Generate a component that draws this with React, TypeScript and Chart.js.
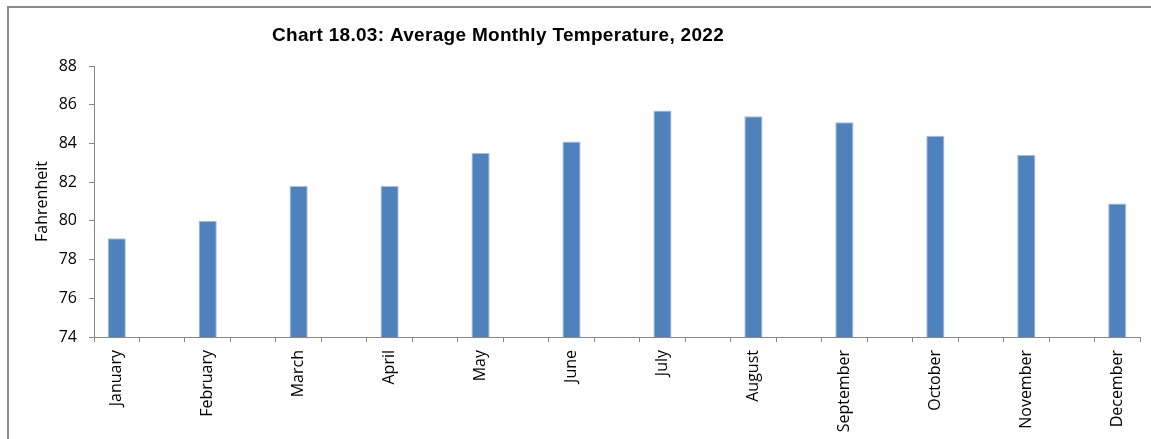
import React, { useEffect, useRef } from "react";
import { Chart, registerables } from "chart.js";

Chart.register(...registerables);

const TITLE = "Chart 18.03: Average Monthly Temperature, 2022";
const Y_TITLE = "Fahrenheit";
const MONTHS = ["January", "February", "March", "April", "May", "June", "July", "August", "September", "October", "November", "December"];
const TEMPS = [79.1, 80.0, 81.8, 81.8, 83.5, 84.1, 85.7, 85.4, 85.1, 84.4, 83.4, 80.9];
const Y_MIN = 74;
const Y_MAX = 88;
const Y_STEP = 2;

// Excel-style layout: each month is followed by an empty category slot
const LABELS: string[] = [];
const VALUES: (number | null)[] = [];
MONTHS.forEach((m, i) => {
  LABELS.push(m);
  VALUES.push(TEMPS[i]);
  if (i < MONTHS.length - 1) {
    LABELS.push("");
    VALUES.push(null);
  }
});

const titlePlugin = {
  id: "customTitle",
  afterDraw(chart: any) {
    const ctx = chart.ctx;
    ctx.save();
    ctx.font = "bold 19px 'Liberation Sans', Arial, sans-serif";
    try {
      (ctx as any).letterSpacing = "0.3px";
    } catch (e) {}
    ctx.fillStyle = "#000";
    ctx.textAlign = "center";
    ctx.textBaseline = "alphabetic";
    ctx.fillText(TITLE, 498, 41);
    ctx.restore();
  },
};

export default function App() {
  const ref = useRef<HTMLCanvasElement>(null);
  useEffect(() => {
    if (!ref.current) return;
    const chart = new Chart(ref.current, {
      type: "bar",
      data: {
        labels: LABELS,
        datasets: [
          {
            data: VALUES,
            backgroundColor: "#4F81BD",
            borderColor: "#A7C0E0",
            borderWidth: 1,
            barPercentage: 0.4,
            categoryPercentage: 1,
          },
        ],
      },
      options: {
        animation: false,
        responsive: false,
        maintainAspectRatio: false,
        layout: { padding: { left: 0, right: 11, top: 66, bottom: 0 } },
        plugins: { legend: { display: false }, title: { display: false }, tooltip: { enabled: false } },
        scales: {
          x: {
            grid: { display: true, drawOnChartArea: false, offset: true, color: "#888888", tickLength: 5 },
            border: { display: true, color: "#888888", width: 1 },
            ticks: {
              autoSkip: false,
              maxRotation: 90,
              minRotation: 90,
              padding: 8,
              color: "#000",
              font: { family: "'Open Sans', sans-serif", size: 16 },
            },
            afterFit(scale: any) {
              scale.height = 102;
            },
          },
          y: {
            min: Y_MIN,
            max: Y_MAX,
            grid: { display: true, drawOnChartArea: false, color: "#888888", tickLength: 5 },
            border: { display: true, color: "#888888", width: 1 },
            ticks: {
              stepSize: Y_STEP,
              padding: 12,
              color: "#000",
              font: { family: "'Open Sans', sans-serif", size: 16 },
            },
            title: {
              display: true,
              text: Y_TITLE,
              color: "#000",
              padding: { top: 33, bottom: 0 },
              font: { family: "'Open Sans', sans-serif", size: 16 },
            },
            afterFit(scale: any) {
              scale.width = 94;
            },
          },
        },
      },
      plugins: [titlePlugin],
    });
    return () => chart.destroy();
  }, []);

  return (
    <div style={{ position: "fixed", left: 0, top: 0, width: 1151, height: 439, background: "#fff" }}>
      <div
        style={{
          position: "absolute",
          left: 7,
          top: 6,
          width: 1151,
          height: 439,
          borderLeft: "2px solid #8c8c8c",
          borderTop: "2px solid #8c8c8c",
          boxSizing: "border-box",
        }}
      />
      <canvas ref={ref} width={1151} height={439} style={{ position: "absolute", left: 0, top: 0 }} />
    </div>
  );
}
